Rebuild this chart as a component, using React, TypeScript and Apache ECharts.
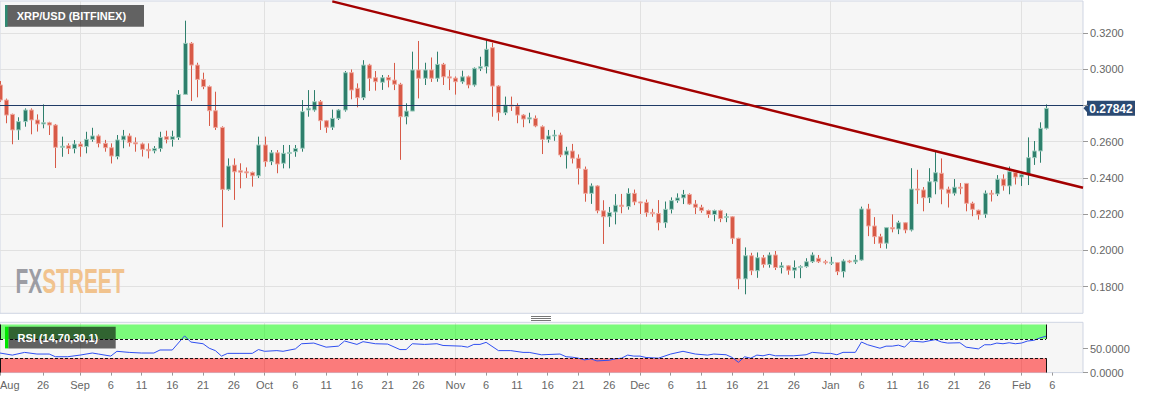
import React, { useEffect, useRef } from 'react';
import * as echarts from 'echarts';

// ---------- data ----------
const START_YEAR = 2019;
const START_MONTH = 7; // August (0-based)
const START_DAY = 19;
const AXIS_DAYS = 177; // Aug 19 2019 .. Feb 11 2020
const MONTHS = ['Jan', 'Feb', 'Mar', 'Apr', 'May', 'Jun', 'Jul', 'Aug', 'Sep', 'Oct', 'Nov', 'Dec'];
const labelDays = [1, 6, 11, 16, 21, 26];
const LAST_LABEL_IDX = 172;

const title = 'XRP/USD (BITFINEX)';
const rsiTitle = 'RSI (14,70,30,1)';

// [open, close, low, high] per day from Aug 19 2019
const ohlc: number[][] = [
  [0.2913, 0.2830, 0.2820, 0.2935],
  [0.2830, 0.2747, 0.2702, 0.2838],
  [0.2751, 0.2665, 0.2586, 0.2755],
  [0.2665, 0.2711, 0.2610, 0.2735],
  [0.2711, 0.2775, 0.2683, 0.2784],
  [0.2775, 0.2720, 0.2641, 0.2784],
  [0.2720, 0.2698, 0.2656, 0.2751],
  [0.2698, 0.2705, 0.2674, 0.2806],
  [0.2705, 0.2692, 0.2637, 0.2710],
  [0.2692, 0.2569, 0.2455, 0.2698],
  [0.2569, 0.2575, 0.2517, 0.2628],
  [0.2578, 0.2563, 0.2532, 0.2591],
  [0.2562, 0.2587, 0.2536, 0.2609],
  [0.2587, 0.2573, 0.2517, 0.2600],
  [0.2573, 0.2613, 0.2536, 0.2655],
  [0.2613, 0.2632, 0.2600, 0.2677],
  [0.2632, 0.2591, 0.2569, 0.2640],
  [0.2591, 0.2567, 0.2545, 0.2610],
  [0.2567, 0.2521, 0.2480, 0.2591],
  [0.2518, 0.2610, 0.2503, 0.2637],
  [0.2610, 0.2632, 0.2564, 0.2665],
  [0.2632, 0.2595, 0.2573, 0.2646],
  [0.2595, 0.2588, 0.2545, 0.2624],
  [0.2588, 0.2558, 0.2518, 0.2595],
  [0.2558, 0.2550, 0.2508, 0.2591],
  [0.2550, 0.2563, 0.2536, 0.2576],
  [0.2563, 0.2624, 0.2545, 0.2655],
  [0.2628, 0.2613, 0.2591, 0.2661],
  [0.2613, 0.2628, 0.2573, 0.2661],
  [0.2624, 0.2861, 0.2610, 0.2885],
  [0.2861, 0.3143, 0.2858, 0.3268],
  [0.3143, 0.3023, 0.2825, 0.3150],
  [0.3023, 0.2944, 0.2845, 0.3036],
  [0.2944, 0.2904, 0.2890, 0.2981],
  [0.2904, 0.2771, 0.2687, 0.2910],
  [0.2771, 0.2679, 0.2665, 0.2876],
  [0.2679, 0.2337, 0.2128, 0.2685],
  [0.2337, 0.2466, 0.2330, 0.2508],
  [0.2471, 0.2434, 0.2279, 0.2508],
  [0.2440, 0.2432, 0.2343, 0.2481],
  [0.2434, 0.2428, 0.2400, 0.2458],
  [0.2431, 0.2412, 0.2352, 0.2435],
  [0.2412, 0.2582, 0.2400, 0.2628],
  [0.2582, 0.2490, 0.2462, 0.2628],
  [0.2490, 0.2539, 0.2471, 0.2554],
  [0.2539, 0.2477, 0.2426, 0.2554],
  [0.2481, 0.2536, 0.2453, 0.2582],
  [0.2536, 0.2541, 0.2453, 0.2582],
  [0.2545, 0.2563, 0.2517, 0.2582],
  [0.2564, 0.2766, 0.2545, 0.2830],
  [0.2775, 0.2785, 0.2738, 0.2885],
  [0.2775, 0.2821, 0.2766, 0.2885],
  [0.2821, 0.2716, 0.2665, 0.2830],
  [0.2716, 0.2680, 0.2649, 0.2720],
  [0.2680, 0.2729, 0.2665, 0.2777],
  [0.2729, 0.2775, 0.2720, 0.2780],
  [0.2775, 0.2981, 0.2766, 0.2990],
  [0.2981, 0.2885, 0.2834, 0.2999],
  [0.2895, 0.2843, 0.2790, 0.2922],
  [0.2843, 0.3023, 0.2830, 0.3050],
  [0.3023, 0.2950, 0.2880, 0.3030],
  [0.2953, 0.2931, 0.2882, 0.2990],
  [0.2928, 0.2953, 0.2886, 0.2968],
  [0.2955, 0.2940, 0.2900, 0.2968],
  [0.2940, 0.2917, 0.2885, 0.3035],
  [0.2917, 0.2738, 0.2500, 0.2925],
  [0.2738, 0.2769, 0.2696, 0.2812],
  [0.2769, 0.2996, 0.2769, 0.3097],
  [0.2996, 0.2950, 0.2839, 0.3156],
  [0.2950, 0.2996, 0.2913, 0.3036],
  [0.2996, 0.2950, 0.2930, 0.3065],
  [0.2950, 0.3027, 0.2931, 0.3097],
  [0.3027, 0.2958, 0.2913, 0.3035],
  [0.2958, 0.2951, 0.2885, 0.2995],
  [0.2951, 0.2931, 0.2860, 0.2960],
  [0.2931, 0.2958, 0.2920, 0.2992],
  [0.2958, 0.2913, 0.2895, 0.2965],
  [0.2913, 0.3005, 0.2904, 0.3010],
  [0.3005, 0.3014, 0.2990, 0.3069],
  [0.3014, 0.3110, 0.2977, 0.3161],
  [0.3119, 0.2907, 0.2738, 0.3146],
  [0.2907, 0.2760, 0.2716, 0.2912],
  [0.2760, 0.2802, 0.2747, 0.2849],
  [0.2802, 0.2797, 0.2770, 0.2849],
  [0.2797, 0.2747, 0.2702, 0.2812],
  [0.2747, 0.2725, 0.2680, 0.2752],
  [0.2725, 0.2732, 0.2702, 0.2760],
  [0.2729, 0.2687, 0.2680, 0.2745],
  [0.2683, 0.2613, 0.2532, 0.2690],
  [0.2613, 0.2632, 0.2595, 0.2665],
  [0.2635, 0.2637, 0.2605, 0.2665],
  [0.2637, 0.2527, 0.2515, 0.2650],
  [0.2527, 0.2549, 0.2452, 0.2572],
  [0.2549, 0.2509, 0.2480, 0.2588],
  [0.2509, 0.2453, 0.2364, 0.2530],
  [0.2448, 0.2315, 0.2269, 0.2463],
  [0.2315, 0.2356, 0.2257, 0.2370],
  [0.2356, 0.2219, 0.2205, 0.2360],
  [0.2219, 0.2186, 0.2036, 0.2277],
  [0.2186, 0.2210, 0.2130, 0.2240],
  [0.2212, 0.2250, 0.2144, 0.2311],
  [0.2250, 0.2243, 0.2205, 0.2312],
  [0.2242, 0.2315, 0.2225, 0.2343],
  [0.2315, 0.2268, 0.2250, 0.2336],
  [0.2268, 0.2262, 0.2201, 0.2270],
  [0.2265, 0.2208, 0.2186, 0.2281],
  [0.2210, 0.2204, 0.2186, 0.2230],
  [0.2204, 0.2153, 0.2111, 0.2278],
  [0.2153, 0.2227, 0.2125, 0.2270],
  [0.2227, 0.2275, 0.2204, 0.2293],
  [0.2275, 0.2290, 0.2263, 0.2315],
  [0.2290, 0.2309, 0.2256, 0.2334],
  [0.2309, 0.2256, 0.2251, 0.2315],
  [0.2256, 0.2238, 0.2201, 0.2278],
  [0.2238, 0.2220, 0.2208, 0.2252],
  [0.2220, 0.2198, 0.2180, 0.2225],
  [0.2198, 0.2220, 0.2161, 0.2225],
  [0.2220, 0.2176, 0.2156, 0.2225],
  [0.2183, 0.2187, 0.2156, 0.2205],
  [0.2186, 0.2067, 0.2036, 0.2190],
  [0.2067, 0.1843, 0.1786, 0.2070],
  [0.1843, 0.1971, 0.1758, 0.2017],
  [0.1971, 0.1888, 0.1864, 0.1987],
  [0.1888, 0.1960, 0.1849, 0.1989],
  [0.1960, 0.1923, 0.1905, 0.1975],
  [0.1923, 0.1975, 0.1905, 0.1989],
  [0.1975, 0.1906, 0.1892, 0.1997],
  [0.1906, 0.1915, 0.1873, 0.1935],
  [0.1915, 0.1891, 0.1866, 0.1918],
  [0.1891, 0.1906, 0.1847, 0.1945],
  [0.1906, 0.1911, 0.1847, 0.1918],
  [0.1911, 0.1938, 0.1905, 0.1957],
  [0.1938, 0.1975, 0.1931, 0.1989],
  [0.1957, 0.1938, 0.1931, 0.1975],
  [0.1938, 0.1933, 0.1923, 0.1948],
  [0.1933, 0.1935, 0.1920, 0.1965],
  [0.1933, 0.1883, 0.1864, 0.1936],
  [0.1883, 0.1942, 0.1851, 0.1951],
  [0.1942, 0.1937, 0.1930, 0.1948],
  [0.1937, 0.1947, 0.1925, 0.1975],
  [0.1947, 0.2229, 0.1943, 0.2242],
  [0.2229, 0.2135, 0.2079, 0.2257],
  [0.2135, 0.2076, 0.2036, 0.2184],
  [0.2076, 0.2040, 0.2013, 0.2092],
  [0.2040, 0.2126, 0.2010, 0.2126],
  [0.2126, 0.2119, 0.2100, 0.2199],
  [0.2118, 0.2153, 0.2090, 0.2164],
  [0.2153, 0.2113, 0.2095, 0.2155],
  [0.2113, 0.2339, 0.2105, 0.2454],
  [0.2339, 0.2334, 0.2257, 0.2445],
  [0.2334, 0.2291, 0.2216, 0.2350],
  [0.2291, 0.2379, 0.2262, 0.2454],
  [0.2379, 0.2429, 0.2310, 0.2549],
  [0.2426, 0.2338, 0.2255, 0.2508],
  [0.2338, 0.2316, 0.2237, 0.2352],
  [0.2316, 0.2349, 0.2303, 0.2394],
  [0.2349, 0.2344, 0.2310, 0.2372],
  [0.2370, 0.2260, 0.2216, 0.2372],
  [0.2260, 0.2227, 0.2189, 0.2269],
  [0.2222, 0.2197, 0.2170, 0.2225],
  [0.2200, 0.2316, 0.2180, 0.2331],
  [0.2316, 0.2312, 0.2270, 0.2333],
  [0.2312, 0.2393, 0.2300, 0.2416],
  [0.2394, 0.2357, 0.2330, 0.2420],
  [0.2356, 0.2435, 0.2310, 0.2463],
  [0.2430, 0.2405, 0.2364, 0.2437],
  [0.2405, 0.2418, 0.2356, 0.2422],
  [0.2418, 0.2512, 0.2361, 0.2624],
  [0.2512, 0.2549, 0.2472, 0.2604],
  [0.2549, 0.2674, 0.2484, 0.2707],
  [0.2674, 0.27842, 0.2668, 0.2806],
];

// RSI readings [day index, value]
const rsi: number[][] = [
  [0, 40.7], [2, 36.4], [4, 42], [6, 38.6], [8, 38.6], [9, 33], [11, 33], [13, 36.4], [15, 40.7],
  [16, 38.6], [18, 34.3], [19, 44.3], [21, 42], [23, 40.7], [25, 40.7], [26, 47], [28, 47], [30, 76.4],
  [31, 63.6], [33, 60], [34, 50.7], [35, 45.7], [36, 34.3], [37, 40], [39, 40], [41, 40], [42, 47.9],
  [43, 44.3], [45, 45.7], [46, 44.3], [48, 49.3], [49, 60], [51, 61.4], [53, 52.9], [55, 55], [56, 65.7],
  [58, 58.6], [59, 64.3], [61, 60], [63, 59.3], [65, 47.9], [66, 47.9], [67, 60], [69, 58.6], [71, 60],
  [72, 56.4], [75, 55], [76, 52.9], [77, 58.6], [78, 58.6], [79, 62.9], [81, 45.7], [83, 45.7], [85, 42],
  [86, 42], [88, 37], [91, 38.6], [92, 33], [93, 32], [94, 30], [95, 26.4], [96, 28.6], [97, 24.3],
  [99, 25.7], [100, 28.6], [101, 30], [102, 36.4], [103, 34.3], [104, 34.3], [105, 31.4], [107, 30],
  [109, 38.6], [111, 44.3], [113, 38.6], [115, 36.4], [116, 38.6], [118, 37.1], [119, 31.4], [120, 21.4],
  [121, 32.9], [122, 30], [123, 36.4], [124, 35], [125, 37.9], [126, 35], [129, 35], [131, 37.1],
  [132, 42.1], [134, 40], [135, 40], [136, 37.1], [137, 42.1], [139, 42.1], [140, 63.6], [141, 57.9],
  [143, 50.7], [144, 55], [145, 55], [146, 57.1], [147, 52.9], [148, 65.7], [150, 63.6], [152, 68.6],
  [153, 63.6], [154, 61.4], [156, 62.1], [157, 52.9], [159, 49.3], [160, 57.9], [161, 57.9], [162, 61.4],
  [163, 60], [164, 62.1], [165, 60], [166, 61.4], [167, 65.7], [168, 67.1], [169, 72.1], [170, 75.7],
];

// trend line endpoints [day index, price]
const trendline: number[][] = [[54, 0.33744], [176, 0.23462]];
const priceTicks = [0.18, 0.2, 0.22, 0.24, 0.26, 0.28, 0.3, 0.32];
const hiddenPriceLabels = [0.28]; // covered by the last-price tag
const rsiTicks = [0, 50];
const rsiLevels = { overbought: 70, oversold: 30 };

// ---------- styles ----------
const UP = '#2e7f6c';
const UP_PALE = '#9fcdbf';
const DOWN = '#d75a47';
const DOWN_PALE = '#efaaa0';
const FONT = 'Liberation Sans, Arial, sans-serif';

const dates: Date[] = [];
for (let i = 0; i < AXIS_DAYS; i++) dates.push(new Date(Date.UTC(START_YEAR, START_MONTH, START_DAY + i)));
const categories = dates.map((d) => `${d.getUTCFullYear()}-${d.getUTCMonth() + 1}-${d.getUTCDate()}`);
const isLabelIdx = (i: number) =>
  i === 0 || (i > 3 && i <= LAST_LABEL_IDX && labelDays.includes(dates[i].getUTCDate()));
const isMonthStart = (i: number) => dates[i].getUTCDate() === 1;
const labelText = (i: number) => {
  const d = dates[i];
  if (i === 0 || d.getUTCDate() === 1) return MONTHS[d.getUTCMonth()];
  return String(d.getUTCDate());
};
const lastIdx = ohlc.length - 1;
const lastClose = ohlc[lastIdx][1];
const shownPriceLabels = priceTicks.filter((t) => !hiddenPriceLabels.includes(t));

export default function App() {
  const ref = useRef<HTMLDivElement>(null);
  useEffect(() => {
    if (!ref.current) return;
    const chart = echarts.init(ref.current, undefined, { renderer: 'svg' });
    const candleData = ohlc.map((r, i) => [i, r[0], r[1], r[2], r[3]]);

    const baseGraphics: any[] = [
      {
        id: 'logo', type: 'text', x: 15.5, y: 279.7, scaleX: 0.58, z: 1, silent: true,
        style: {
          text: '{a|FX}{b|STREET}', verticalAlign: 'middle', align: 'left',
          rich: {
            a: { fill: '#9c9da4', fontSize: 36, fontWeight: 'bold', fontFamily: FONT },
            b: { fill: '#f1c38e', fontSize: 36, fontWeight: 'bold', fontFamily: FONT },
          },
        },
      },
      { id: 'tbox', type: 'rect', shape: { x: 5, y: 5, width: 139, height: 21.7 }, style: { fill: 'rgba(0,0,0,0.6)' }, z: 50, silent: true },
      { id: 'tstrip', type: 'rect', shape: { x: 5, y: 5, width: 2.5, height: 21.7 }, style: { fill: '#2e8a72' }, z: 51, silent: true },
      { id: 'ttext', type: 'text', x: 16.7, y: 16.2, z: 52, silent: true, style: { text: title, fill: '#fff', fontSize: 11, fontWeight: 'bold', fontFamily: FONT, verticalAlign: 'middle', align: 'left' } },
      { id: 'rbox', type: 'rect', shape: { x: 8.3, y: 326.7, width: 107.4, height: 21.7 }, style: { fill: 'rgba(0,0,0,0.6)' }, z: 50, silent: true },
      { id: 'rstrip', type: 'rect', shape: { x: 5, y: 326.7, width: 3.3, height: 21.7 }, style: { fill: '#00e600' }, z: 51, silent: true },
      { id: 'rtext', type: 'text', x: 17.5, y: 337.8, z: 52, silent: true, style: { text: rsiTitle, fill: '#fff', fontSize: 11, fontWeight: 'bold', fontFamily: FONT, verticalAlign: 'middle', align: 'left' } },
      { id: 'h1', type: 'line', shape: { x1: 531, y1: 316.5, x2: 551, y2: 316.5 }, style: { stroke: '#777', lineWidth: 1 }, silent: true },
      { id: 'h2', type: 'line', shape: { x1: 531, y1: 318.5, x2: 551, y2: 318.5 }, style: { stroke: '#777', lineWidth: 1 }, silent: true },
      { id: 'h3', type: 'line', shape: { x1: 531, y1: 320.5, x2: 551, y2: 320.5 }, style: { stroke: '#777', lineWidth: 1 }, silent: true },
    ];

    const option: any = {
      animation: false,
      backgroundColor: '#ffffff',
      textStyle: { fontFamily: FONT },
      grid: [
        { left: 0, right: 70, top: 1, bottom: 85.7, show: true, backgroundColor: '#f6f6f6', borderColor: '#cfd5e3', borderWidth: 1, containLabel: false, outerBoundsMode: 'none' },
        { left: 0, right: 70, top: 322.3, bottom: 26.4, show: true, backgroundColor: '#f6f6f6', borderColor: '#cfd5e3', borderWidth: 1, containLabel: false, outerBoundsMode: 'none' },
      ],
      xAxis: [
        {
          type: 'category', gridIndex: 0, data: categories, boundaryGap: false,
          axisLine: { show: false }, axisTick: { show: false }, axisLabel: { show: false },
          splitLine: { show: true, interval: (i: number) => isMonthStart(i), lineStyle: { color: '#e1e1e1', width: 1 } },
        },
        {
          type: 'category', gridIndex: 1, data: categories, boundaryGap: false,
          axisLine: { show: false },
          axisTick: { show: true, interval: (i: number) => isLabelIdx(i), length: 3, lineStyle: { color: '#9a9a9a' } },
          axisLabel: {
            show: true, interval: (i: number) => isLabelIdx(i), formatter: (_v: string, i: number) => labelText(i),
            color: '#666', fontSize: 11, fontFamily: FONT, margin: 7, alignMinLabel: 'left', hideOverlap: false,
          },
          splitLine: { show: true, interval: (i: number) => isMonthStart(i), lineStyle: { color: '#e1e1e1', width: 1 } },
        },
      ],
      yAxis: [
        {
          type: 'value', gridIndex: 0, position: 'right', min: 0.16532, max: 0.33766,
          minInterval: 0.02, maxInterval: 0.02,
          axisLine: { show: false },
          axisTick: { show: true, length: 5, lineStyle: { color: '#9a9a9a' }, customValues: priceTicks },
          axisLabel: {
            color: '#666', fontSize: 11, fontFamily: FONT, margin: 7, customValues: shownPriceLabels,
            formatter: (v: number) => (shownPriceLabels.some((t) => Math.abs(t - v) < 1e-7) ? v.toFixed(4) : ''),
          },
          splitLine: { show: true, lineStyle: { color: '#e1e1e1', width: 1 } },
        },
        {
          type: 'value', gridIndex: 1, position: 'right', min: 0, max: 104.6,
          minInterval: 50, maxInterval: 50,
          axisLine: { show: false },
          axisTick: { show: true, length: 5, lineStyle: { color: '#9a9a9a' }, customValues: rsiTicks },
          axisLabel: {
            color: '#666', fontSize: 11, fontFamily: FONT, margin: 7, customValues: rsiTicks,
            formatter: (v: number) => (rsiTicks.includes(v) ? v.toFixed(4) : ''),
          },
          splitLine: { show: false },
        },
      ],
      series: [
        {
          type: 'custom', name: 'XRP/USD', xAxisIndex: 0, yAxisIndex: 0, clip: true, z: 5,
          encode: { x: 0, y: [1, 2, 3, 4] },
          data: candleData,
          renderItem: (_p: any, api: any) => {
            const i = api.value(0);
            const o = api.value(1), c = api.value(2), l = api.value(3), h = api.value(4);
            const pO = api.coord([i, o]);
            const pC = api.coord([i, c]);
            const pL = api.coord([i, l]);
            const pH = api.coord([i, h]);
            const up = c >= o;
            const dark = up ? UP : DOWN;
            const pale = up ? UP_PALE : DOWN_PALE;
            const xr = Math.round(pO[0]);
            const top = Math.min(pO[1], pC[1]);
            const bot = Math.max(pO[1], pC[1]);
            return {
              type: 'group',
              children: [
                { type: 'line', shape: { x1: xr + 0.5, y1: pH[1], x2: xr + 0.5, y2: pL[1] }, style: { stroke: dark, lineWidth: 1 } },
                { type: 'rect', shape: { x: xr - 1.5, y: top, width: 4, height: Math.max(bot - top, 1) }, style: { fill: dark, stroke: pale, lineWidth: 1 } },
              ],
            };
          },
        },
        {
          type: 'line', name: 'trend', xAxisIndex: 0, yAxisIndex: 0, data: trendline, showSymbol: false, symbol: 'none',
          lineStyle: { color: '#a30000', width: 2.5 }, z: 6, silent: true,
          markLine: {
            silent: true, symbol: ['none', 'none'], label: { show: false },
            lineStyle: { color: '#1f3b66', width: 1, type: 'solid' },
            data: [{ yAxis: lastClose }],
          },
        },
        {
          type: 'line', name: 'RSI', xAxisIndex: 1, yAxisIndex: 1, data: rsi, showSymbol: false, symbol: 'none',
          lineStyle: { color: '#2f4ff0', width: 1 }, z: 4, silent: true,
          markArea: {
            silent: true,
            data: [
              [{ xAxis: 0, yAxis: rsiLevels.overbought, itemStyle: { color: 'rgba(0,255,0,0.5)' } }, { xAxis: lastIdx, yAxis: 100 }],
              [{ xAxis: 0, yAxis: 0, itemStyle: { color: 'rgba(255,0,0,0.5)' } }, { xAxis: lastIdx, yAxis: rsiLevels.oversold }],
            ],
          },
          markLine: {
            silent: true, symbol: ['none', 'none'], label: { show: false },
            lineStyle: { color: '#111', width: 1, type: 'solid' },
            data: [
              [{ coord: [0, 100] }, { coord: [0, rsiLevels.overbought] }],
              [{ coord: [0, rsiLevels.overbought], lineStyle: { type: [3, 2] } }, { coord: [lastIdx, rsiLevels.overbought] }],
              [{ coord: [lastIdx, rsiLevels.overbought] }, { coord: [lastIdx, 100] }],
              [{ coord: [0, rsiLevels.oversold] }, { coord: [0, 0] }],
              [{ coord: [0, rsiLevels.oversold], lineStyle: { type: [3, 2] } }, { coord: [lastIdx, rsiLevels.oversold] }],
              [{ coord: [lastIdx, rsiLevels.oversold] }, { coord: [lastIdx, 0] }],
            ],
          },
        },
      ],
      graphic: baseGraphics,
    };
    chart.setOption(option);

    const yPix = chart.convertToPixel({ yAxisIndex: 0 }, lastClose) as number;
    const xPix = chart.convertToPixel({ xAxisIndex: 0 }, categories[AXIS_DAYS - 1]) as number;
    const tag = {
      id: 'ptag', type: 'group', x: xPix + 0.5, y: yPix, z: 60, silent: true,
      children: [
        { type: 'polygon', shape: { points: [[0, 0], [4, -4.5], [4, 4.5]] }, style: { fill: '#2b4a73' } },
        { type: 'rect', shape: { x: 3.5, y: -7.5, width: 48, height: 15 }, style: { fill: '#2b4a73' } },
        { type: 'text', x: 27.5, y: 0.5, style: { text: lastClose.toFixed(5), fill: '#fff', fontSize: 12, fontWeight: 'bold', fontFamily: FONT, align: 'center', verticalAlign: 'middle' } },
      ],
    };
    option.graphic = [...baseGraphics, tag];
    chart.setOption(option, true);

    return () => chart.dispose();
  }, []);
  return <div ref={ref} style={{ position: 'absolute', left: 0, top: 0, width: 1153, height: 399 }} />;
}
